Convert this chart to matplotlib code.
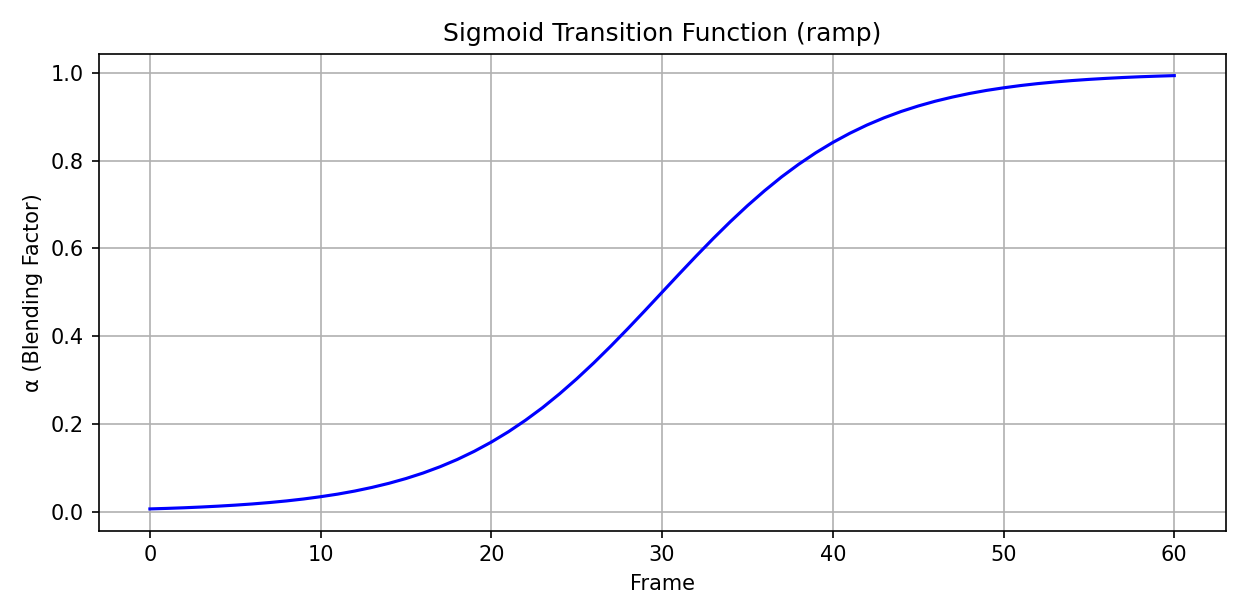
import matplotlib
matplotlib.use("Agg")
import matplotlib.pyplot as plt

# values, one per frame (lower half; upper half mirrors it)
frames = list(range(0, 61))
alpha_lo = [0.0067, 0.0079, 0.0093, 0.0110, 0.0130, 0.0153, 0.0180, 0.0212,
            0.0249, 0.0293, 0.0345, 0.0404, 0.0474, 0.0556, 0.0650, 0.0759,
            0.0884, 0.1028, 0.1192, 0.1379, 0.1589, 0.1824, 0.2086, 0.2373,
            0.2689, 0.3029, 0.3392, 0.3775, 0.4174, 0.4584]
alpha = alpha_lo + [0.5] + [round(1 - v, 4) for v in reversed(alpha_lo)]

fig = plt.figure(figsize=(8.32, 4.107), dpi=150)
plt.plot(frames, alpha, color="blue", linewidth=1.5)
plt.title("Sigmoid Transition Function (ramp)")
plt.xlabel("Frame")
plt.ylabel("α (Blending Factor)")
plt.grid(True)
plt.tight_layout()
plt.savefig("out.png")
